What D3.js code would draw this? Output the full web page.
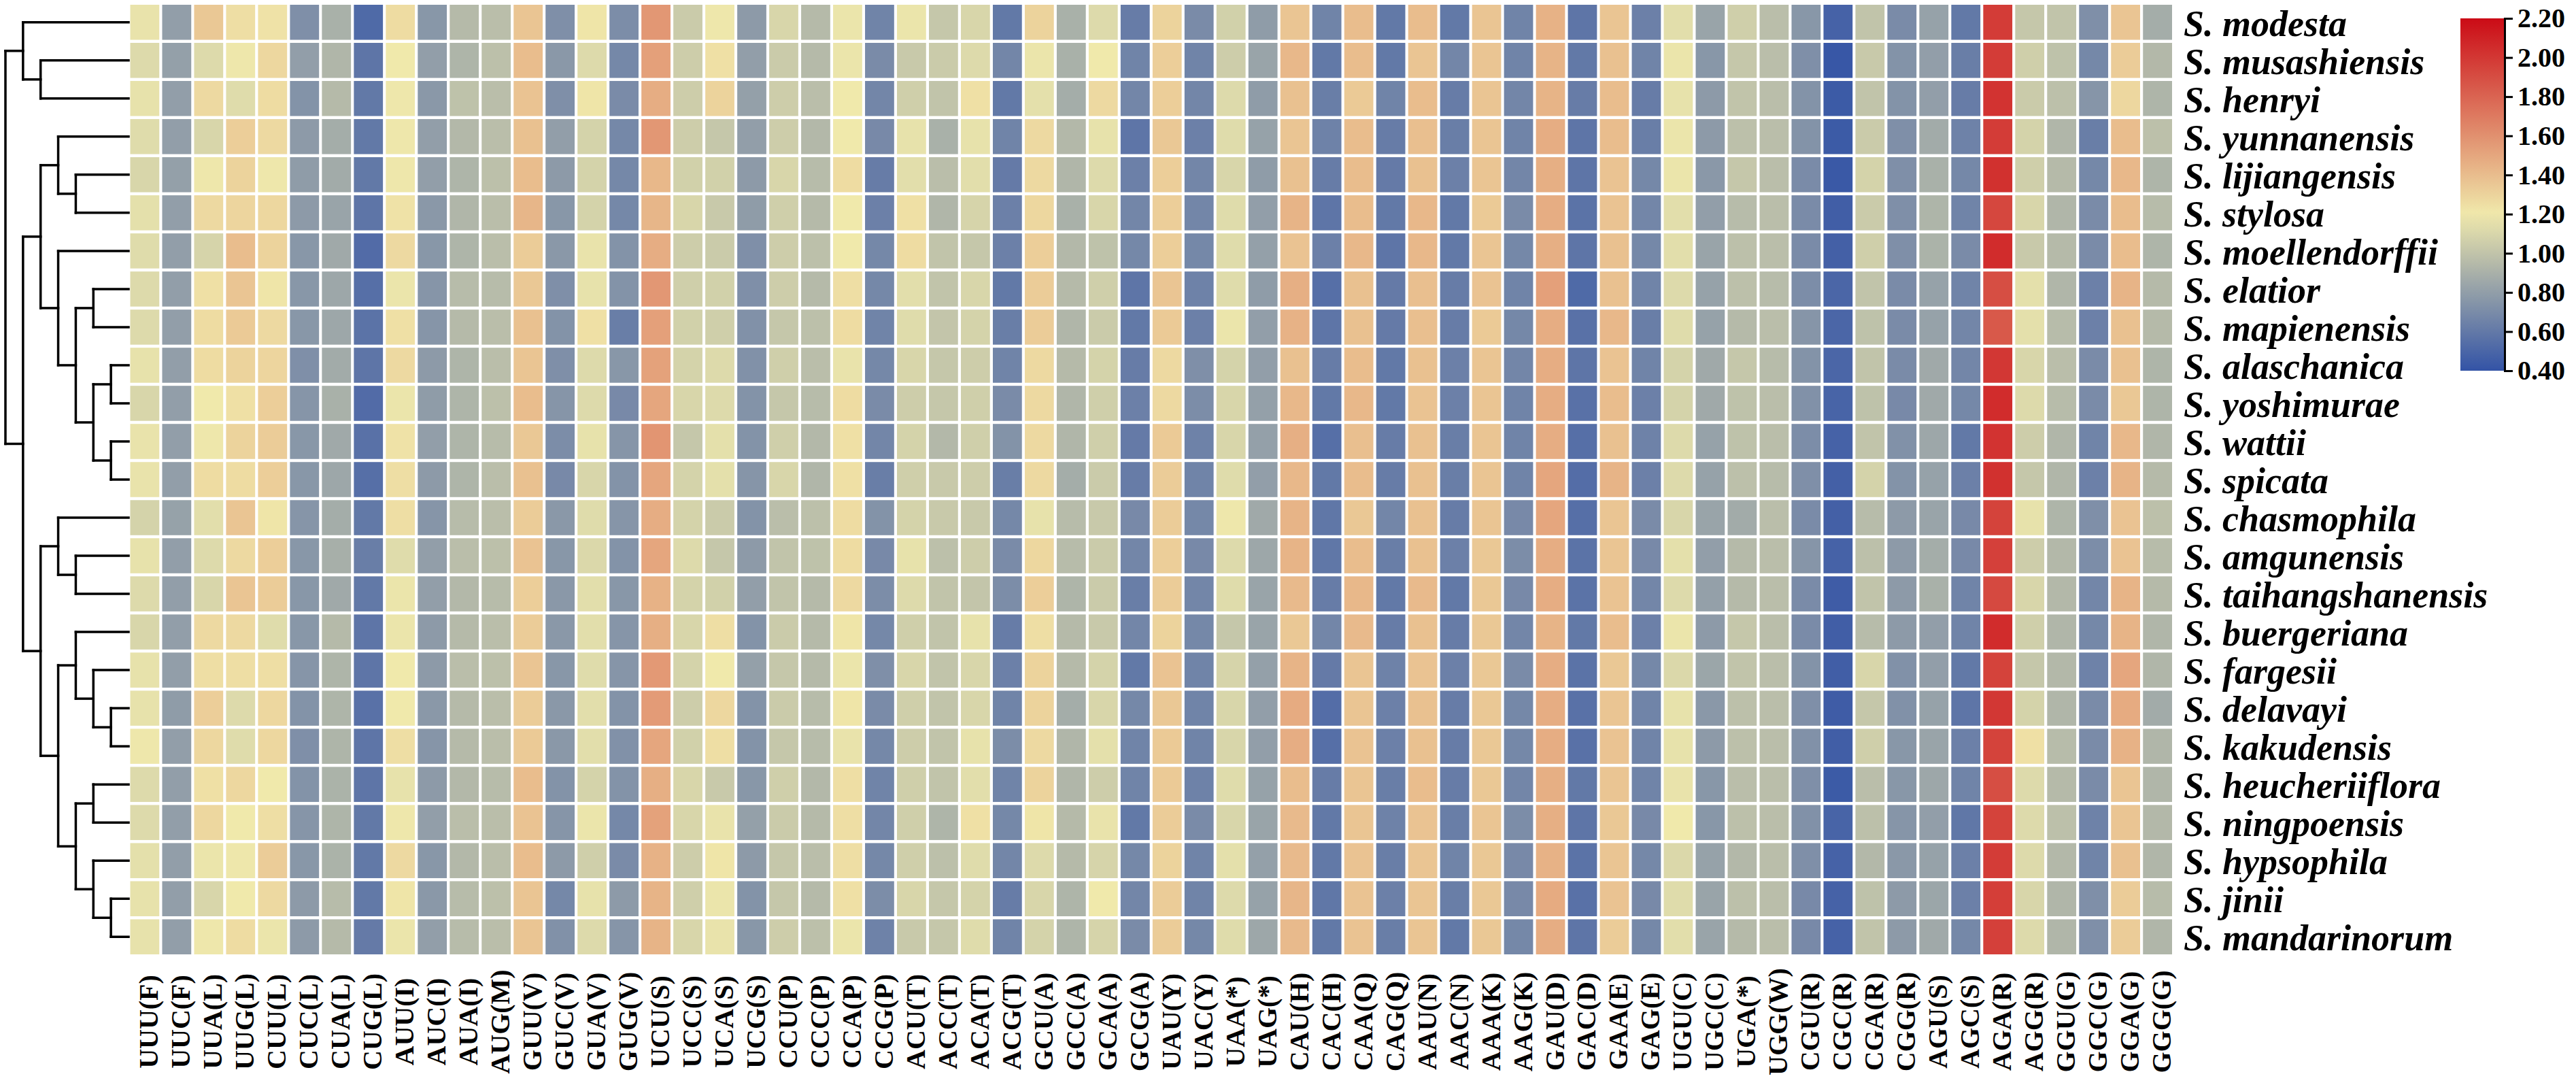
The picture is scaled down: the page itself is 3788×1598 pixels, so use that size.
<!DOCTYPE html>
<html><head><meta charset="utf-8">
<script src="https://cdn.jsdelivr.net/npm/d3@7"></script>
<style>html,body{margin:0;padding:0;background:#fff;}svg{display:block;}</style>
</head><body>
<svg id="chart" width="3788" height="1598"></svg>
<script>
const species = ["S. modesta","S. musashiensis","S. henryi","S. yunnanensis","S. lijiangensis","S. stylosa","S. moellendorffii","S. elatior","S. mapienensis","S. alaschanica","S. yoshimurae","S. wattii","S. spicata","S. chasmophila","S. amgunensis","S. taihangshanensis","S. buergeriana","S. fargesii","S. delavayi","S. kakudensis","S. heucheriiflora","S. ningpoensis","S. hypsophila","S. jinii","S. mandarinorum"];

const codons = ["UUU(F)","UUC(F)","UUA(L)","UUG(L)","CUU(L)","CUC(L)","CUA(L)","CUG(L)","AUU(I)","AUC(I)","AUA(I)","AUG(M)","GUU(V)","GUC(V)","GUA(V)","GUG(V)","UCU(S)","UCC(S)","UCA(S)","UCG(S)","CCU(P)","CCC(P)","CCA(P)","CCG(P)","ACU(T)","ACC(T)","ACA(T)","ACG(T)","GCU(A)","GCC(A)","GCA(A)","GCG(A)","UAU(Y)","UAC(Y)","UAA(*)","UAG(*)","CAU(H)","CAC(H)","CAA(Q)","CAG(Q)","AAU(N)","AAC(N)","AAA(K)","AAG(K)","GAU(D)","GAC(D)","GAA(E)","GAG(E)","UGU(C)","UGC(C)","UGA(*)","UGG(W)","CGU(R)","CGC(R)","CGA(R)","CGG(R)","AGU(S)","AGC(S)","AGA(R)","AGG(R)","GGU(G)","GGC(G)","GGA(G)","GGG(G)"];

// RSCU values: one array per codon (same order as codons), 25 values each (species order)
const rscu = [
[1.17,1.12,1.16,1.13,1.10,1.15,1.13,1.12,1.12,1.16,1.10,1.17,1.17,1.08,1.16,1.12,1.10,1.16,1.16,1.19,1.12,1.12,1.15,1.16,1.16],
[0.80,0.81,0.80,0.80,0.81,0.80,0.80,0.80,0.80,0.80,0.80,0.80,0.80,0.82,0.80,0.80,0.80,0.80,0.79,0.80,0.80,0.80,0.80,0.80,0.80],
[1.35,1.12,1.27,1.10,1.19,1.27,1.09,1.24,1.26,1.26,1.20,1.19,1.26,1.14,1.12,1.10,1.27,1.25,1.32,1.28,1.24,1.28,1.18,1.10,1.19],
[1.25,1.19,1.13,1.32,1.30,1.29,1.40,1.36,1.34,1.30,1.24,1.30,1.26,1.36,1.27,1.36,1.27,1.25,1.12,1.13,1.28,1.20,1.19,1.20,1.26],
[1.23,1.28,1.26,1.27,1.19,1.28,1.30,1.22,1.27,1.29,1.32,1.33,1.32,1.22,1.32,1.33,1.13,1.25,1.28,1.28,1.20,1.25,1.33,1.27,1.18],
[0.72,0.80,0.74,0.78,0.79,0.78,0.76,0.76,0.76,0.72,0.75,0.76,0.76,0.75,0.76,0.76,0.76,0.75,0.74,0.72,0.74,0.75,0.76,0.78,0.78],
[0.90,0.93,0.95,0.88,0.87,0.83,0.86,0.85,0.85,0.87,0.90,0.86,0.85,0.88,0.89,0.86,0.95,0.92,0.92,0.92,0.91,0.92,0.91,0.96,0.95],
[0.52,0.58,0.60,0.60,0.60,0.58,0.53,0.55,0.57,0.58,0.53,0.56,0.55,0.60,0.63,0.60,0.58,0.58,0.56,0.58,0.58,0.60,0.60,0.60,0.61],
[1.26,1.20,1.19,1.19,1.19,1.23,1.27,1.18,1.24,1.27,1.18,1.23,1.25,1.25,1.13,1.18,1.18,1.20,1.20,1.25,1.16,1.19,1.27,1.22,1.18],
[0.76,0.80,0.77,0.80,0.80,0.77,0.76,0.75,0.75,0.78,0.79,0.80,0.78,0.75,0.80,0.80,0.78,0.78,0.77,0.75,0.78,0.80,0.76,0.77,0.80],
[0.95,0.92,0.99,0.94,0.92,0.93,0.92,0.96,0.95,0.92,0.92,0.92,0.92,0.96,0.97,0.94,0.95,0.97,0.95,0.95,0.94,0.97,0.94,0.96,0.96],
[0.97,0.98,0.97,0.97,0.98,0.97,0.97,0.96,0.97,0.97,0.98,0.96,0.97,0.97,0.98,0.96,0.97,0.98,0.97,0.97,0.96,0.97,0.97,0.98,0.97],
[1.36,1.40,1.37,1.38,1.40,1.43,1.33,1.35,1.38,1.36,1.40,1.35,1.38,1.33,1.37,1.32,1.33,1.36,1.33,1.34,1.40,1.37,1.40,1.36,1.36],
[0.72,0.77,0.72,0.80,0.78,0.76,0.77,0.72,0.74,0.72,0.75,0.71,0.69,0.77,0.76,0.77,0.77,0.76,0.77,0.77,0.74,0.75,0.78,0.68,0.73],
[1.22,1.12,1.22,1.08,1.08,1.08,1.17,1.16,1.24,1.12,1.12,1.16,1.10,1.13,1.11,1.14,1.14,1.13,1.14,1.14,1.08,1.18,1.06,1.16,1.12],
[0.71,0.68,0.70,0.68,0.68,0.68,0.74,0.74,0.63,0.76,0.69,0.75,0.74,0.75,0.74,0.76,0.75,0.75,0.74,0.73,0.74,0.68,0.70,0.78,0.75],
[1.57,1.53,1.47,1.57,1.42,1.43,1.47,1.57,1.53,1.52,1.50,1.58,1.50,1.47,1.50,1.45,1.46,1.56,1.55,1.50,1.46,1.52,1.45,1.44,1.44],
[1.04,1.05,1.05,1.05,1.07,1.10,1.05,1.06,1.07,1.08,1.10,1.02,1.08,1.08,1.12,1.08,1.10,1.08,1.05,1.07,1.10,1.10,1.05,1.06,1.10],
[1.19,1.24,1.30,1.02,1.07,1.03,1.04,1.07,1.06,1.12,1.12,1.15,1.15,1.04,1.02,1.07,1.25,1.20,1.28,1.25,1.03,1.17,1.22,1.18,1.17],
[0.78,0.80,0.81,0.80,0.78,0.79,0.72,0.72,0.73,0.73,0.74,0.74,0.75,0.74,0.78,0.80,0.74,0.81,0.74,0.74,0.76,0.81,0.78,0.74,0.76],
[1.10,1.04,1.05,1.05,1.10,1.06,1.05,1.05,1.02,1.06,1.02,1.06,1.10,0.97,1.00,1.00,1.04,1.02,1.04,1.02,1.06,1.04,1.02,1.02,1.05],
[0.95,0.95,0.97,0.94,0.96,0.95,0.98,0.95,0.98,0.97,0.96,0.94,0.93,0.98,0.99,0.95,0.95,0.95,0.96,0.96,0.94,0.95,0.97,0.95,0.98],
[1.18,1.18,1.20,1.20,1.26,1.20,1.20,1.25,1.26,1.17,1.26,1.24,1.24,1.26,1.26,1.27,1.22,1.18,1.22,1.17,1.25,1.25,1.25,1.24,1.18],
[0.66,0.70,0.67,0.69,0.62,0.64,0.68,0.68,0.66,0.68,0.70,0.67,0.63,0.74,0.69,0.71,0.68,0.72,0.70,0.68,0.66,0.67,0.68,0.71,0.65],
[1.18,1.03,1.06,1.16,1.14,1.24,1.26,1.14,1.13,1.10,1.05,1.08,1.06,1.08,1.16,1.12,1.06,1.10,1.06,1.05,1.06,1.06,1.06,1.10,1.03],
[1.02,1.04,1.00,0.90,0.97,0.93,1.00,1.00,1.01,1.02,1.02,0.94,1.03,1.03,0.98,1.00,1.00,1.00,1.00,1.00,1.00,0.92,0.98,1.02,1.02],
[1.10,1.12,1.24,1.16,1.14,1.09,1.02,1.10,1.08,1.05,1.06,1.06,1.05,1.03,1.05,1.01,1.16,1.10,1.10,1.16,1.14,1.24,1.13,1.08,1.13],
[0.60,0.67,0.60,0.66,0.61,0.64,0.64,0.60,0.63,0.66,0.70,0.74,0.63,0.68,0.70,0.71,0.62,0.64,0.66,0.71,0.66,0.68,0.67,0.62,0.66],
[1.30,1.18,1.15,1.27,1.27,1.28,1.32,1.33,1.33,1.27,1.27,1.27,1.27,1.16,1.28,1.32,1.25,1.30,1.30,1.27,1.30,1.22,1.12,1.10,1.08],
[0.90,0.90,0.88,0.94,0.93,0.90,0.94,0.95,0.93,0.95,0.93,0.93,0.88,0.96,0.96,0.92,0.95,0.95,0.88,0.93,0.93,0.95,0.95,0.92,0.92],
[1.12,1.20,1.27,1.16,1.12,1.10,0.99,1.06,1.04,1.08,1.06,1.06,1.04,1.03,1.04,1.04,1.03,1.08,1.10,1.15,1.05,1.17,1.09,1.20,1.09],
[0.62,0.66,0.67,0.58,0.64,0.67,0.68,0.58,0.60,0.62,0.64,0.61,0.62,0.69,0.67,0.63,0.67,0.60,0.68,0.66,0.66,0.60,0.68,0.67,0.70],
[1.30,1.32,1.32,1.35,1.32,1.32,1.32,1.36,1.34,1.27,1.27,1.34,1.33,1.33,1.32,1.33,1.30,1.37,1.35,1.34,1.34,1.33,1.30,1.33,1.33],
[0.70,0.66,0.67,0.64,0.67,0.67,0.68,0.65,0.64,0.72,0.71,0.65,0.66,0.68,0.69,0.67,0.68,0.66,0.66,0.66,0.65,0.70,0.66,0.66,0.68],
[1.07,1.05,1.12,1.13,1.10,1.13,1.13,1.13,1.18,1.08,1.10,1.10,1.13,1.19,1.12,1.13,1.02,1.09,1.10,1.10,1.13,1.10,1.15,1.12,1.13],
[0.79,0.83,0.79,0.82,0.79,0.80,0.81,0.79,0.80,0.80,0.81,0.81,0.80,0.86,0.85,0.83,0.83,0.81,0.80,0.80,0.82,0.83,0.81,0.82,0.85],
[1.36,1.42,1.38,1.36,1.38,1.44,1.37,1.46,1.45,1.38,1.42,1.46,1.42,1.44,1.44,1.41,1.35,1.44,1.48,1.47,1.40,1.41,1.41,1.43,1.41],
[0.66,0.60,0.63,0.65,0.62,0.58,0.64,0.55,0.58,0.62,0.60,0.55,0.60,0.59,0.59,0.62,0.67,0.61,0.54,0.55,0.62,0.60,0.60,0.59,0.60],
[1.40,1.40,1.34,1.40,1.40,1.40,1.42,1.38,1.38,1.40,1.42,1.39,1.40,1.35,1.40,1.42,1.41,1.36,1.36,1.37,1.36,1.36,1.37,1.37,1.37],
[0.60,0.60,0.66,0.62,0.61,0.60,0.58,0.61,0.61,0.60,0.60,0.62,0.62,0.67,0.63,0.60,0.62,0.65,0.64,0.64,0.63,0.65,0.63,0.64,0.63],
[1.40,1.36,1.40,1.39,1.38,1.42,1.42,1.39,1.39,1.38,1.37,1.38,1.38,1.38,1.38,1.41,1.38,1.37,1.38,1.38,1.40,1.37,1.36,1.36,1.36],
[0.60,0.67,0.62,0.63,0.64,0.60,0.60,0.62,0.62,0.64,0.64,0.63,0.63,0.62,0.64,0.60,0.62,0.64,0.62,0.62,0.62,0.63,0.66,0.63,0.60],
[1.36,1.36,1.36,1.36,1.36,1.34,1.36,1.37,1.34,1.36,1.36,1.36,1.36,1.36,1.35,1.35,1.35,1.35,1.35,1.35,1.35,1.36,1.35,1.35,1.35],
[0.66,0.66,0.67,0.66,0.67,0.70,0.68,0.66,0.68,0.67,0.66,0.66,0.66,0.69,0.71,0.69,0.67,0.70,0.68,0.68,0.67,0.71,0.69,0.69,0.68],
[1.45,1.44,1.44,1.47,1.46,1.47,1.46,1.53,1.47,1.47,1.47,1.47,1.50,1.50,1.47,1.47,1.44,1.47,1.47,1.47,1.46,1.46,1.45,1.48,1.47],
[0.58,0.60,0.62,0.58,0.58,0.57,0.58,0.52,0.56,0.58,0.56,0.55,0.54,0.55,0.57,0.57,0.60,0.57,0.56,0.56,0.60,0.58,0.57,0.56,0.58],
[1.36,1.38,1.40,1.40,1.37,1.37,1.38,1.38,1.42,1.37,1.40,1.38,1.44,1.36,1.36,1.37,1.40,1.35,1.36,1.37,1.36,1.35,1.36,1.37,1.33],
[0.64,0.66,0.62,0.63,0.68,0.67,0.68,0.66,0.63,0.66,0.64,0.65,0.64,0.70,0.69,0.67,0.64,0.68,0.66,0.66,0.66,0.69,0.68,0.69,0.68],
[1.14,1.18,1.16,1.18,1.18,1.14,1.14,1.12,1.13,1.08,1.08,1.12,1.12,1.10,1.15,1.12,1.18,1.11,1.16,1.16,1.17,1.20,1.11,1.13,1.14],
[0.83,0.76,0.78,0.78,0.77,0.80,0.83,0.82,0.82,0.86,0.86,0.82,0.82,0.83,0.80,0.81,0.78,0.84,0.77,0.78,0.76,0.76,0.82,0.83,0.83],
[1.06,1.02,1.00,0.98,1.02,0.96,0.98,0.98,0.95,1.02,0.99,0.99,0.98,0.87,0.95,0.95,1.02,1.00,0.98,0.98,0.97,0.98,0.94,0.98,0.95],
[0.97,0.97,0.97,0.97,0.97,0.97,0.97,0.96,0.97,0.96,0.97,0.97,0.96,0.97,0.97,0.97,0.97,0.97,0.97,0.97,0.97,0.97,0.97,0.97,0.97],
[0.76,0.72,0.74,0.74,0.70,0.70,0.70,0.71,0.75,0.74,0.73,0.71,0.72,0.70,0.75,0.70,0.70,0.74,0.72,0.73,0.72,0.73,0.72,0.69,0.69],
[0.48,0.42,0.44,0.44,0.43,0.46,0.47,0.50,0.50,0.50,0.49,0.48,0.47,0.47,0.48,0.45,0.46,0.46,0.45,0.46,0.44,0.49,0.48,0.48,0.48],
[1.00,1.03,1.00,1.04,1.08,1.04,1.06,1.00,0.99,1.00,0.99,1.00,1.08,0.96,0.98,1.00,0.96,1.10,1.02,1.06,0.97,0.98,0.94,0.99,1.00],
[0.70,0.74,0.74,0.72,0.72,0.72,0.72,0.70,0.70,0.70,0.69,0.73,0.74,0.78,0.78,0.78,0.78,0.73,0.73,0.76,0.76,0.75,0.77,0.78,0.78],
[0.82,0.80,0.80,0.87,0.90,0.92,0.91,0.82,0.82,0.86,0.86,0.85,0.82,0.83,0.88,0.90,0.80,0.80,0.82,0.83,0.85,0.80,0.82,0.84,0.86],
[0.60,0.63,0.62,0.65,0.68,0.66,0.70,0.66,0.67,0.67,0.68,0.60,0.64,0.69,0.69,0.66,0.66,0.60,0.58,0.64,0.66,0.59,0.64,0.64,0.68],
[1.98,1.98,2.02,1.98,2.03,1.93,2.05,1.90,1.85,2.00,2.05,2.02,2.03,1.95,1.96,1.92,2.05,1.95,2.00,1.95,1.90,1.95,1.98,1.97,1.96],
[1.02,1.06,1.04,1.08,1.06,1.10,1.03,1.15,1.15,1.10,1.12,1.05,1.02,1.16,1.05,1.10,1.06,1.02,1.08,1.24,1.12,1.12,1.12,1.10,1.12],
[1.00,0.99,0.98,0.93,0.95,0.93,0.95,0.93,0.96,0.97,0.96,0.93,0.93,0.92,0.94,0.94,0.93,0.94,0.93,0.96,0.95,0.98,0.94,0.93,0.93],
[0.72,0.68,0.75,0.63,0.68,0.70,0.70,0.64,0.64,0.70,0.70,0.66,0.64,0.72,0.71,0.67,0.68,0.65,0.70,0.70,0.70,0.65,0.66,0.72,0.72],
[1.36,1.33,1.28,1.40,1.42,1.40,1.40,1.44,1.38,1.38,1.35,1.42,1.44,1.37,1.37,1.44,1.44,1.50,1.48,1.45,1.36,1.36,1.38,1.33,1.33],
[0.88,0.94,0.92,0.98,0.92,0.96,0.92,0.95,0.95,0.92,0.92,0.93,0.95,0.98,0.96,0.95,0.93,0.93,0.87,0.93,0.93,0.94,0.93,0.96,0.93]
];

// Dendrogram topology (leaf = species index)
const treeTopology = [[0,[1,2]],[[[3,[4,5]],[6,[[7,8],[[9,10],[11,12]]]]],[[13,[14,15]],[[16,[17,[18,19]]],[[20,21],[22,[23,24]]]]]]];

const colorDomain = [0.4, 1.2, 2.2];
const colorRange = ["#3353a6", "#f0e9ab", "#cb0b16"];
const colorTicks = [0.4,0.6,0.8,1.0,1.2,1.4,1.6,1.8,2.0,2.2];

// ---------- drawing ----------
const svg = d3.select("#chart");
const FONT = "'Liberation Serif','Times New Roman',Times,serif";

const x = d3.scaleBand().domain(codons).range([191.5, 3194]).paddingInner(0.09).paddingOuter(0);
const y = d3.scaleBand().domain(species).range([7, 1403]).paddingInner(0.08).paddingOuter(0);
const color = d3.scaleLinear().domain(colorDomain).range(colorRange).clamp(true);

const cells = [];
codons.forEach((c, ci) => species.forEach((s, si) => cells.push({codon: c, sp: s, v: rscu[ci][si]})));

svg.append("g").selectAll("rect").data(cells).join("rect")
  .attr("x", d => x(d.codon)).attr("y", d => y(d.sp))
  .attr("width", x.bandwidth()).attr("height", y.bandwidth())
  .attr("fill", d => color(d.v));

// species labels
svg.append("g").selectAll("text").data(species).join("text")
  .attr("x", 3211).attr("y", d => y(d) + y.bandwidth()/2 + 20)
  .attr("font-family", FONT).attr("font-size", 54).attr("font-weight", "bold").attr("font-style", "italic")
  .attr("fill", "#000").text(d => d);

// codon labels
svg.append("g").selectAll("text").data(codons).join("text")
  .attr("transform", d => `translate(${x(d) + x.bandwidth()/2 + 6},1502) rotate(-90)`)
  .attr("text-anchor", "middle").attr("dominant-baseline", "central")
  .attr("font-family", FONT).attr("font-size", 40).attr("font-weight", "bold")
  .attr("fill", "#000").text(d => d);

// dendrogram
const root = d3.hierarchy(treeTopology, d => Array.isArray(d) ? d : null);
const xDepth = d3.scaleLinear().domain([0, 7]).range([8, 189]);
root.eachAfter(n => {
  if (!n.children) {
    n.py = y(species[n.data]) + y.bandwidth()/2;
    n.px = xDepth(7);
  } else {
    n.py = (n.children[0].py + n.children[n.children.length-1].py) / 2;
    n.px = xDepth(n.depth);
  }
});
const segs = [];
root.each(n => {
  if (n.children) {
    const first = n.children[0], last = n.children[n.children.length-1];
    segs.push([n.px, first.py, n.px, last.py]);
    n.children.forEach(c => segs.push([n.px, c.py, c.px, c.py]));
  }
});
svg.append("g").selectAll("line").data(segs).join("line")
  .attr("x1", d => d[0]).attr("y1", d => d[1]).attr("x2", d => d[2]).attr("y2", d => d[3])
  .attr("stroke", "#000").attr("stroke-width", 3.5).attr("stroke-linecap", "square");

// color bar
const cb = d3.scaleLinear().domain([0.4, 2.2]).range([545, 27]);
const defs = svg.append("defs");
const grad = defs.append("linearGradient").attr("id", "cbgrad")
  .attr("x1", 0).attr("y1", 1).attr("x2", 0).attr("y2", 0);
d3.range(0, 1.0001, 0.05).forEach(t => {
  const v = 0.4 + t * 1.8;
  grad.append("stop").attr("offset", t).attr("stop-color", color(v));
});
svg.append("rect").attr("x", 3618).attr("y", cb(2.2)).attr("width", 65)
  .attr("height", cb(0.4) - cb(2.2)).attr("fill", "url(#cbgrad)");
const axis = d3.axisRight(cb).tickValues(colorTicks).tickFormat(d3.format(".2f")).tickSize(12).tickPadding(7);
const ag = svg.append("g").attr("transform", "translate(3683,0)").call(axis);
ag.select(".domain").attr("stroke", "#000").attr("stroke-width", 3);
ag.selectAll(".tick line").attr("stroke", "#000").attr("stroke-width", 3);
ag.selectAll(".tick text").attr("font-family", FONT).attr("font-size", 40).attr("font-weight", "bold").attr("fill", "#000");
</script>
</body></html>
